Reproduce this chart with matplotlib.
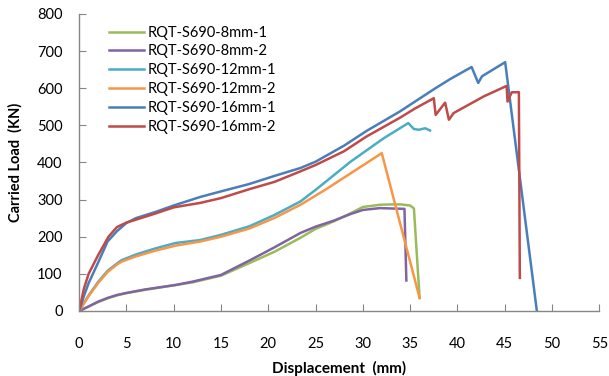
import matplotlib
matplotlib.use("Agg")
import matplotlib.pyplot as plt

# load-displacement curves
x_8_1 = [0, 1, 2, 3, 4, 5, 7, 10, 12, 15, 18.1, 20.7, 23.4, 25, 26.9, 28.7, 30, 31.8, 33, 34, 35, 35.4, 36.0]
y_8_1 = [0, 12, 24, 34, 42, 48, 57, 69, 77, 95, 130, 160, 197, 221, 241, 263, 280, 286, 287, 287, 284, 276, 35]

x_8_2 = [0, 1, 2, 3, 4, 4.9, 7, 10.2, 12, 15, 18.1, 20.7, 23.4, 25, 26.9, 28.7, 30, 31.8, 33, 34.4, 34.6]
y_8_2 = [0, 12, 25, 35, 43, 48, 58, 70, 79, 97, 137, 172, 210, 227, 243, 261, 272, 277, 276, 275, 82]

x_12_1 = [0, 1, 2, 3, 4, 4.5, 6, 8, 10.2, 12.8, 15, 18, 20.7, 23.4, 25, 28.7, 32.2, 34.8, 35.4, 35.9, 36.6, 37.1]
y_12_1 = [0, 42, 78, 108, 128, 137, 152, 168, 183, 191, 205, 228, 259, 295, 326, 402, 465, 506, 490, 488, 492, 486]

x_12_2 = [0, 1, 2, 3, 4, 4.5, 6, 8, 10.2, 12.8, 15, 18, 20.7, 23.4, 26, 32.0, 36.0]
y_12_2 = [0, 40, 75, 105, 125, 133, 147, 162, 176, 187, 200, 222, 251, 286, 326, 425, 35]

x_16_1 = [0, 0.5, 1, 2, 3, 4, 5, 6, 8, 10, 12.8, 15, 18, 20.7, 23.4, 25, 28, 30.4, 33.9, 37.5, 39.2,
          41.5, 42.2, 42.6, 45.05, 48.4]
y_16_1 = [0, 40, 75, 130, 187, 215, 237, 250, 266, 284, 307, 322, 342, 364, 385, 402, 445, 485, 537, 597, 624,
          657, 614, 632, 670, 0]

x_16_2 = [0, 0.5, 1, 2, 3.1, 4, 5, 5.9, 8, 10, 12.8, 15, 18, 20.7, 23.4, 25, 28, 30.4, 33.9, 35.5, 37.5,
          37.7, 38.7, 39.1, 39.6, 42.8, 45.2, 45.3, 45.75, 46.5, 46.6]
y_16_2 = [0, 60, 100, 150, 200, 226, 238, 245, 262, 279, 291, 304, 328, 348, 376, 393, 430, 470, 520, 545, 573,
          528, 561, 515, 533, 578, 606, 564, 589, 589, 89]

series = [
    ("RQT-S690-8mm-1", x_8_1, y_8_1, "#9BBB59"),
    ("RQT-S690-8mm-2", x_8_2, y_8_2, "#8064A2"),
    ("RQT-S690-12mm-1", x_12_1, y_12_1, "#4BACC6"),
    ("RQT-S690-12mm-2", x_12_2, y_12_2, "#F79646"),
    ("RQT-S690-16mm-1", x_16_1, y_16_1, "#4A7EBB"),
    ("RQT-S690-16mm-2", x_16_2, y_16_2, "#BE4B48"),
]

plt.rcParams['font.family'] = ['Lato', 'DejaVu Sans']

fig = plt.figure(figsize=(6.09, 3.76), dpi=100)
ax = fig.add_axes([0.130, 0.173, 0.854, 0.790])

for name, xs, ys, c in series:
    ax.plot(xs, ys, color=c, lw=1.8, label=name)

ax.set_xlim(0, 55)
ax.set_ylim(0, 800)
ax.set_xticks(range(0, 56, 5))
ax.set_yticks(range(0, 801, 100))

for s in ["top", "right"]:
    ax.spines[s].set_visible(False)
for s in ["left", "bottom"]:
    ax.spines[s].set_color("#868686")
    ax.spines[s].set_linewidth(1.0)

ax.tick_params(axis="x", direction="in", length=5, color="#868686", labelsize=10.5, pad=19)
ax.tick_params(axis="y", direction="in", length=5, color="#868686", labelsize=10.5, pad=12)

ax.set_xlabel("Displacement  (mm)", fontsize=11, fontweight="bold", labelpad=7)
ax.set_ylabel("Carried Load  (KN)", fontsize=10.5, fontweight="bold", labelpad=10)

ax.legend(loc="upper left", bbox_to_anchor=(0.04, 0.99), frameon=False, fontsize=10.5,
          handlelength=2.4, handletextpad=0.25, labelspacing=0.33, borderaxespad=0.2)

fig.savefig("out.png", dpi=100)
